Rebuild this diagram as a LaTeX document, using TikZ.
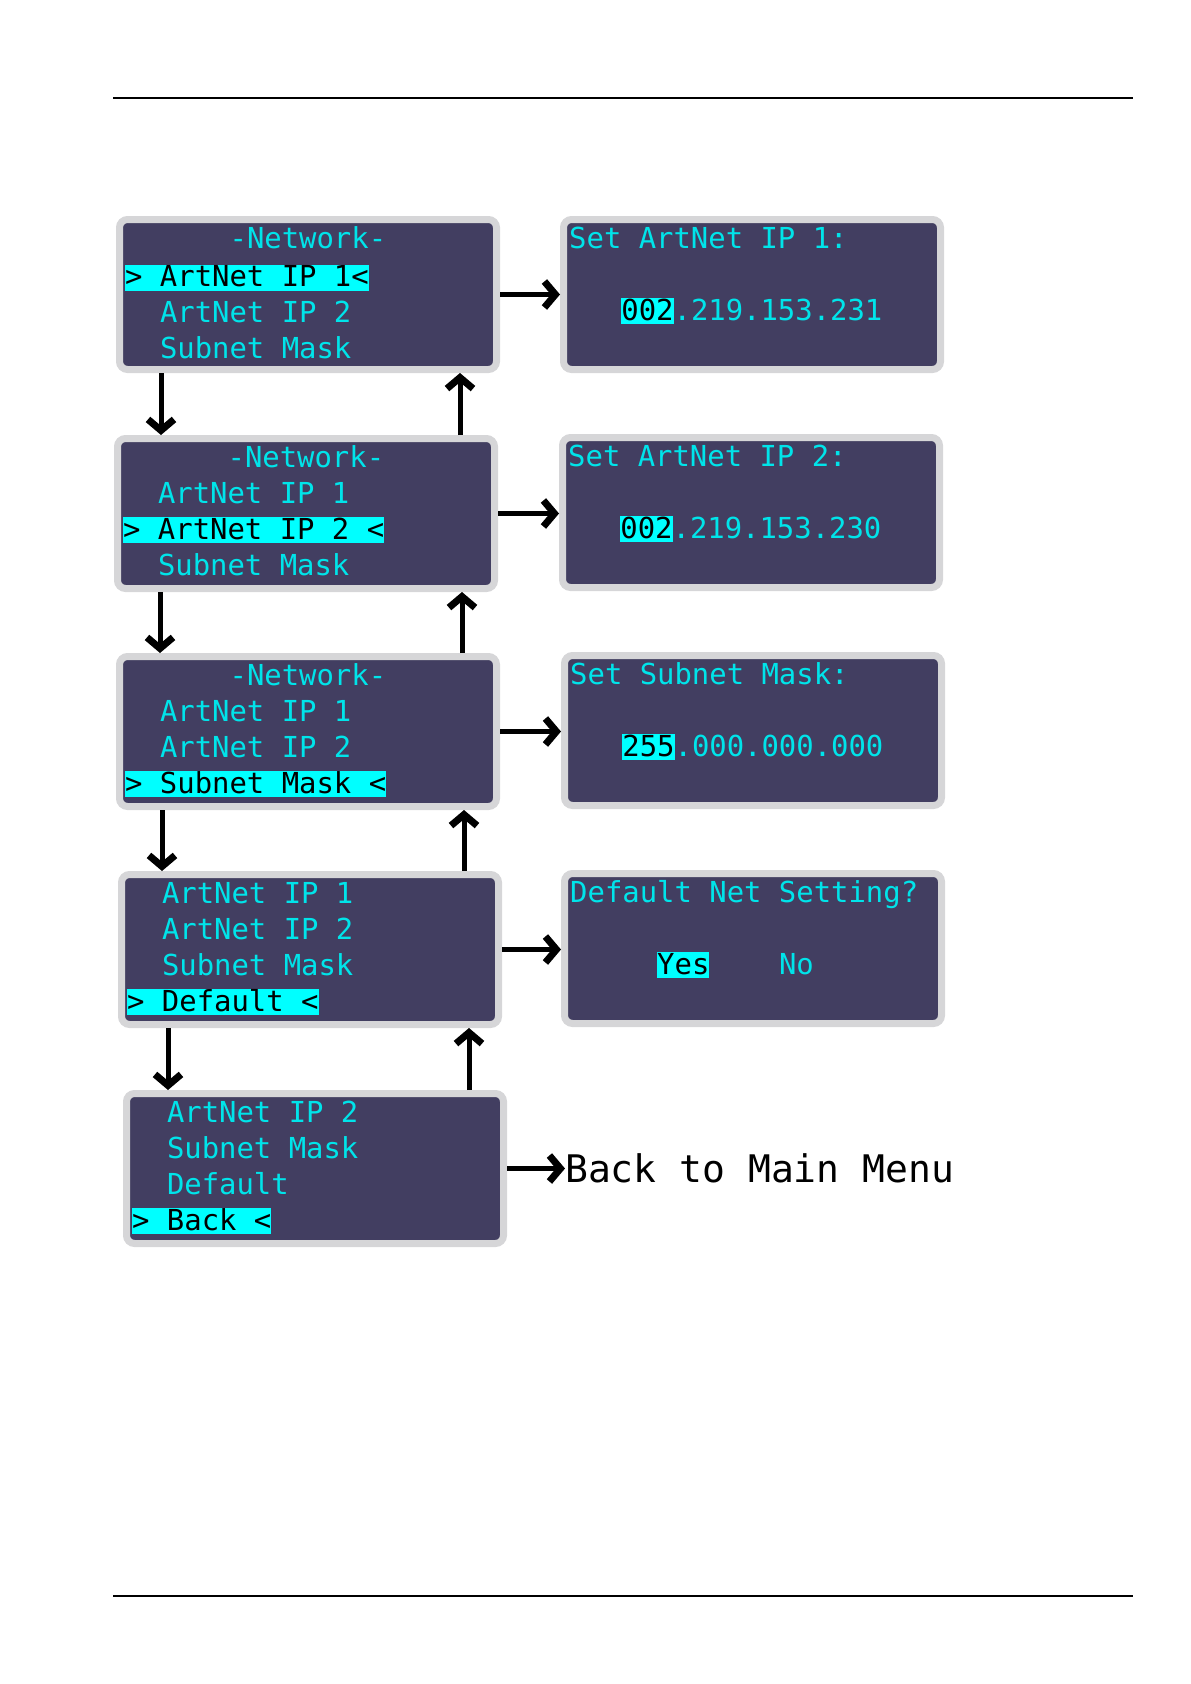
\documentclass[tikz,border=0pt]{standalone}
\usepackage{fontspec}
\usetikzlibrary{calc,arrows.meta}
\newfontfamily\lcdfont{DejaVu Sans Mono}
\definecolor{lcdback}{RGB}{66,62,97}
\definecolor{lcdedge}{RGB}{214,214,216}
\definecolor{lcdcyan}{RGB}{0,228,234}
\definecolor{lcdmark}{RGB}{0,255,255}

\tikzset{
  screen/.style={draw=lcdedge, line width=7pt, fill=lcdback, rounded corners=8pt,
    minimum width=377pt, minimum height=150pt, inner sep=0pt, anchor=north west},
  lcdtxt/.style={text=lcdcyan, font=\lcdfont\fontsize{28.9pt}{36pt}\selectfont,
    inner sep=0pt, anchor=base west},
  lcdsel/.style={lcdtxt, fill=lcdmark, text=black, text height=22pt, text depth=4pt},
  backtxt/.style={font=\lcdfont\fontsize{38pt}{44pt}\selectfont, inner sep=0pt, anchor=base west},
  nav/.style={line width=5pt, -{Straight Barb[length=11pt,width=26pt,line width=7pt]}},
}

% one text line on a screen: style, screen, row, column, text
\newcommand{\lcdrow}[5]{%
  \node[#1] (#2-#3-#4) at ($(#2.north west)+({9+#4*17.4},{32+#3*36})$) {#5};}

\begin{document}
\begin{tikzpicture}[x=1pt,y=-1pt]
            \useasboundingbox (0,0) rectangle (1191,1684);
            % page rules
            \draw[line width=1.3pt] (113,98) -- (1133,98);
            \draw[line width=1.3pt] (113,1596) -- (1133,1596);

            % menu screens
            \node[screen] (l1) at (116,216) {};
            \node[screen] (l2) at (114,435) {};
            \node[screen] (l3) at (116,653) {};
            \node[screen] (l4) at (118,871) {};
            \node[screen] (l5) at (123,1090) {};

            % setting screens
            \node[screen] (r1) at (560,216) {};
            \node[screen] (r2) at (559,434) {};
            \node[screen] (r3) at (561,652) {};
            \node[screen] (r4) at (561,870) {};

            % menu lines
            \lcdrow{lcdtxt}{l1}{0}{6}{-Network-}
            \lcdrow{lcdsel}{l1}{1.08}{0}{> ArtNet IP 1<}
            \lcdrow{lcdtxt}{l1}{2.08}{2}{ArtNet IP 2}
            \lcdrow{lcdtxt}{l1}{3.06}{2}{Subnet Mask}

            \lcdrow{lcdtxt}{l2}{0}{6}{-Network-}
            \lcdrow{lcdtxt}{l2}{1}{2}{ArtNet IP 1}
            \lcdrow{lcdsel}{l2}{2}{0}{> ArtNet IP 2 <}
            \lcdrow{lcdtxt}{l2}{3}{2}{Subnet Mask}

            \lcdrow{lcdtxt}{l3}{0}{6}{-Network-}
            \lcdrow{lcdtxt}{l3}{1}{2}{ArtNet IP 1}
            \lcdrow{lcdtxt}{l3}{2}{2}{ArtNet IP 2}
            \lcdrow{lcdsel}{l3}{3}{0}{> Subnet Mask <}

            \lcdrow{lcdtxt}{l4}{0}{2}{ArtNet IP 1}
            \lcdrow{lcdtxt}{l4}{1}{2}{ArtNet IP 2}
            \lcdrow{lcdtxt}{l4}{2}{2}{Subnet Mask}
            \lcdrow{lcdsel}{l4}{3}{0}{> Default <}

            \lcdrow{lcdtxt}{l5}{0}{2}{ArtNet IP 2}
            \lcdrow{lcdtxt}{l5}{1}{2}{Subnet Mask}
            \lcdrow{lcdtxt}{l5}{2}{2}{Default}
            \lcdrow{lcdsel}{l5}{3}{0}{> Back <}

            % setting lines
            \lcdrow{lcdtxt}{r1}{0}{0}{Set ArtNet IP 1:}
            \lcdrow{lcdsel}{r1}{2}{3}{002}
            \lcdrow{lcdtxt}{r1}{2}{6}{.219.153.231}

            \lcdrow{lcdtxt}{r2}{0}{0}{Set ArtNet IP 2:}
            \lcdrow{lcdsel}{r2}{2}{3}{002}
            \lcdrow{lcdtxt}{r2}{2}{6}{.219.153.230}

            \lcdrow{lcdtxt}{r3}{0}{0}{Set Subnet Mask:}
            \lcdrow{lcdsel}{r3}{2}{3}{255}
            \lcdrow{lcdtxt}{r3}{2}{6}{.000.000.000}

            \lcdrow{lcdtxt}{r4}{0}{0}{Default Net Setting?}
            \lcdrow{lcdsel}{r4}{2}{5}{Yes}
            \lcdrow{lcdtxt}{r4}{2}{12}{No}

            \node[backtxt] (back) at (565,1182) {Back to Main Menu};

            % down arrows
            \coordinate (d1) at ($(l1.south west)+(45,0)$);
            \coordinate (d2) at ($(l2.south west)+(46,0)$);
            \coordinate (d3) at ($(l3.south west)+(46,0)$);
            \coordinate (d4) at ($(l4.south west)+(50,0)$);
            \draw[nav] (d1) -- (d1 |- l2.north);
            \draw[nav] (d2) -- (d2 |- l3.north);
            \draw[nav] (d3) -- (d3 |- l4.north);
            \draw[nav] (d4) -- (d4 |- l5.north);

            % up arrows
            \coordinate (u2) at ($(l2.north east)+(-38,0)$);
            \coordinate (u3) at ($(l3.north east)+(-38,0)$);
            \coordinate (u4) at ($(l4.north east)+(-38,0)$);
            \coordinate (u5) at ($(l5.north east)+(-38,0)$);
            \draw[nav] (u2) -- (u2 |- l1.south);
            \draw[nav] (u3) -- (u3 |- l2.south);
            \draw[nav] (u4) -- (u4 |- l3.south);
            \draw[nav] (u5) -- (u5 |- l4.south);

            % right arrows
            \draw[nav] (l1.east) -- (l1.east -| r1.west);
            \draw[nav] (l2.east) -- (l2.east -| r2.west);
            \draw[nav] (l3.east) -- (l3.east -| r3.west);
            \draw[nav] (l4.east) -- (l4.east -| r4.west);
            \draw[nav] (l5.east) -- (l5.east -| back.west);
\end{tikzpicture}
\end{document}
